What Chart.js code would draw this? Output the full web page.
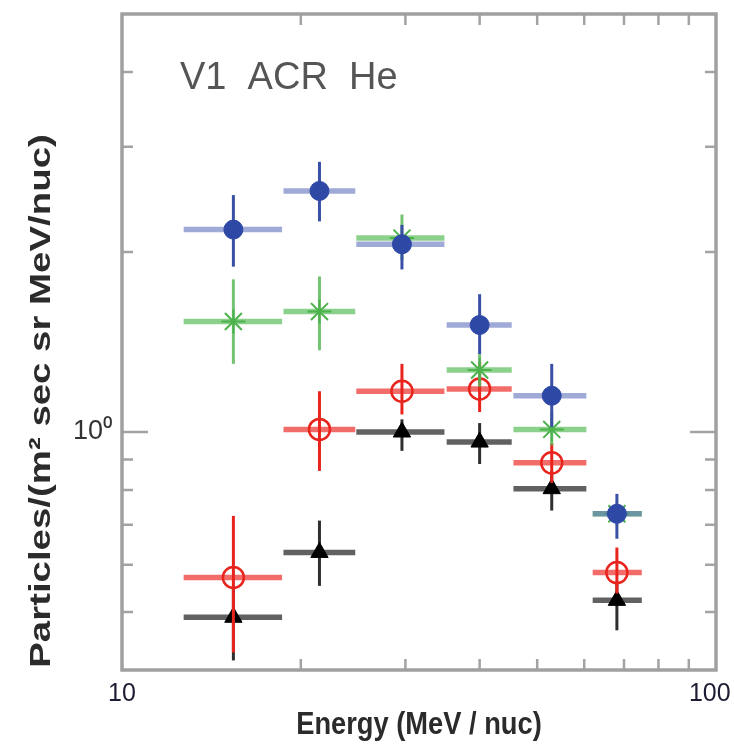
<!DOCTYPE html>
<html>
<head>
<meta charset="utf-8">
<title>V1 ACR He spectrum</title>
<style>
  html, body { margin: 0; padding: 0; background: #ffffff; }
  #wrap { width: 734px; height: 745px; position: relative; }
</style>
<script src="https://cdn.jsdelivr.net/npm/chart.js@4.4.1/dist/chart.umd.min.js"></script>
</head>
<body>
<div id="wrap"><canvas id="spectrum" width="734" height="745"></canvas></div>
<script>
// Energy bins (MeV/nuc): bin centre and bin edges
const energy  = [15.4, 21.5, 29.6, 40.0, 52.9, 68.1];
const binLow  = [12.7, 18.7, 24.8, 35.2, 45.6, 62.0];
const binHigh = [18.6, 24.7, 34.9, 45.3, 60.5, 75.0];

// Blue period (filled circles)
const blueFlux = [2.18, 2.53, 2.06, 1.51, 1.15, 0.730];
const blueHi   = [2.49, 2.83, 2.22, 1.70, 1.30, 0.788];
const blueLo   = [1.89, 2.25, 1.87, 1.35, 1.02, 0.663];

// Green period (asterisks)
const greenFlux = [1.53, 1.59, 2.11, 1.27, 1.01, 0.73];
const greenHi   = [1.80, 1.82, 2.31, 1.35, 1.08, 0.76];
const greenLo   = [1.30, 1.37, 1.94, 1.19, 0.95, 0.70];

// Red period (open circles)
const redFlux = [0.571, 1.01, 1.17, 1.18, 0.888, 0.582];
const redHi   = [0.724, 1.17, 1.30, 1.31, 0.959, 0.641];
const redLo   = [0.428, 0.861, 1.07, 1.08, 0.822, 0.537];

// Black period (filled triangles)
const blackFlux = [0.490, 0.629, 1.00, 0.962, 0.804, 0.523];
const blackHi   = [0.553, 0.711, 1.05, 1.035, 0.861, 0.560];
const blackLo   = [0.415, 0.553, 0.930, 0.884, 0.739, 0.466];

// Axis ranges, tick marks and labelled ticks
const xRange = [10, 100];
const yRange = [0.4, 5];
const xMinorTicks = [20, 30, 40, 50, 60, 70, 80, 90];
const yMinorTicks = [0.5, 0.6, 0.7, 0.8, 0.9, 2, 3, 4];
const yMajorTicks = [1];
// the trailing en space keeps the last label inside the canvas
const xTickLabels = { 10: '10', 100: '100\u2002' };
const yTickLabels = { 1: '10\u2070' };

const series = [
  { name: 'blue',  flux: blueFlux,  hi: blueHi,  lo: blueLo,
    hColor: 'rgba(80,100,180,0.55)', vColor: '#3a4fa6',
    style: { pointStyle: 'circle', radius: 9.5, backgroundColor: '#2e48a6', borderColor: '#2e48a6', borderWidth: 1 } },
  { name: 'green', flux: greenFlux, hi: greenHi, lo: greenLo,
    hColor: 'rgba(90,190,90,0.7)', vColor: 'rgba(90,185,90,0.85)',
    style: { pointStyle: 'star', radius: 12, backgroundColor: '#4cb24c', borderColor: '#4cb24c', borderWidth: 2 } },
  { name: 'red',   flux: redFlux,   hi: redHi,   lo: redLo,
    hColor: 'rgba(238,60,55,0.75)', vColor: '#e8241d',
    style: { pointStyle: 'circle', radius: 10.5, backgroundColor: 'rgba(255,255,255,0)', borderColor: '#e8241d', borderWidth: 2.5 } },
  { name: 'black', flux: blackFlux, hi: blackHi, lo: blackLo,
    hColor: 'rgba(30,30,30,0.7)', vColor: 'rgba(10,10,10,0.85)',
    style: { pointStyle: 'triangle', radius: 10, backgroundColor: '#000000', borderColor: '#000000', borderWidth: 1 } }
];

// Error bars are drawn just before each dataset's markers
const errorBarPlugin = {
  id: 'errorBars',
  beforeDatasetDraw(chart, args) {
    const s = series[args.index];
    if (!s) return;
    const xs = chart.scales.x, ys = chart.scales.y, ctx = chart.ctx;
    ctx.save();
    ctx.lineCap = 'butt';
    for (let i = 0; i < energy.length; i++) {
      const yc = ys.getPixelForValue(s.flux[i]);
      ctx.strokeStyle = s.hColor;
      ctx.lineWidth = 5.5;
      ctx.beginPath();
      ctx.moveTo(xs.getPixelForValue(binLow[i]), yc);
      ctx.lineTo(xs.getPixelForValue(binHigh[i]), yc);
      ctx.stroke();
      const xc = xs.getPixelForValue(energy[i]);
      ctx.strokeStyle = s.vColor;
      ctx.lineWidth = 3;
      ctx.beginPath();
      ctx.moveTo(xc, ys.getPixelForValue(s.hi[i]));
      ctx.lineTo(xc, ys.getPixelForValue(s.lo[i]));
      ctx.stroke();
    }
    ctx.restore();
  }
};

// Box frame with inward tick marks on all four sides
const framePlugin = {
  id: 'frame',
  afterDatasetsDraw(chart) {
    const { ctx, chartArea: a } = chart;
    const xs = chart.scales.x, ys = chart.scales.y;
    ctx.save();
    ctx.strokeStyle = '#a3a3a3';
    ctx.lineWidth = 2.5;
    xMinorTicks.forEach(v => {
      const px = xs.getPixelForValue(v);
      ctx.beginPath();
      ctx.moveTo(px, a.bottom); ctx.lineTo(px, a.bottom - 11);
      ctx.moveTo(px, a.top);    ctx.lineTo(px, a.top + 11);
      ctx.stroke();
    });
    const yTick = (v, len) => {
      const py = ys.getPixelForValue(v);
      ctx.beginPath();
      ctx.moveTo(a.left, py);  ctx.lineTo(a.left + len, py);
      ctx.moveTo(a.right, py); ctx.lineTo(a.right - len, py);
      ctx.stroke();
    };
    yMinorTicks.forEach(v => yTick(v, 11));
    yMajorTicks.forEach(v => yTick(v, 26));
    ctx.lineWidth = 3.5;
    ctx.strokeStyle = '#a0a0a0';
    ctx.strokeRect(a.left, a.top, a.right - a.left, a.bottom - a.top);
    ctx.restore();
  }
};

// Panel label and axis titles
const textPlugin = {
  id: 'texts',
  afterDraw(chart) {
    const { ctx, chartArea: a } = chart;
    ctx.save();
    ctx.fillStyle = '#555555';
    ctx.font = '38px "Liberation Sans", Arial, sans-serif';
    ctx.textAlign = 'left';
    ctx.textBaseline = 'alphabetic';
    ctx.fillText('V1  ACR  He', 180, 89);
    ctx.restore();

    ctx.save();
    ctx.fillStyle = '#2b2b2b';
    ctx.font = 'bold 31px "Liberation Sans", Arial, sans-serif';
    ctx.textAlign = 'center';
    ctx.textBaseline = 'alphabetic';
    ctx.translate((a.left + a.right) / 2, 734);
    ctx.scale(0.88, 1);
    ctx.fillText('Energy (MeV / nuc)', 0, 0);
    ctx.restore();

    ctx.save();
    ctx.fillStyle = '#2b2b2b';
    ctx.font = 'bold 30px "Liberation Sans", Arial, sans-serif';
    ctx.textAlign = 'center';
    ctx.textBaseline = 'alphabetic';
    ctx.translate(50, 401);
    ctx.scale(1, 1.28);
    ctx.rotate(-Math.PI / 2);
    ctx.fillText('Particles/(m\u00b2 sec sr MeV/nuc)', 0, 0);
    ctx.restore();
  }
};

const datasets = series.map(s => Object.assign({
  label: s.name,
  data: energy.map((e, i) => ({ x: e, y: s.flux[i] })),
  showLine: false,
  clip: false
}, s.style));

new Chart(document.getElementById('spectrum'), {
  type: 'scatter',
  data: { datasets },
  plugins: [errorBarPlugin, framePlugin, textPlugin],
  options: {
    responsive: false,
    animation: false,
    devicePixelRatio: 1,
    layout: { padding: { top: 12, right: 18, left: 0, bottom: 0 } },
    plugins: { legend: { display: false }, tooltip: { enabled: false } },
    scales: {
      x: {
        type: 'logarithmic',
        min: xRange[0], max: xRange[1],
        grid: { display: false, drawTicks: false },
        border: { display: false },
        afterFit(scale) {
          scale.height = 75;
          scale.paddingLeft = 0; scale.paddingRight = 0;
        },
        ticks: {
          autoSkip: false, maxRotation: 0, padding: 9,
          color: '#1c1c34',
          font: { family: '"Liberation Sans", Arial, sans-serif', size: 25 },
          callback: v => (xTickLabels[v] !== undefined ? xTickLabels[v] : null)
        }
      },
      y: {
        type: 'logarithmic',
        min: yRange[0], max: yRange[1],
        grid: { display: false, drawTicks: false },
        border: { display: false },
        afterFit(scale) {
          scale.width = 122;
          scale.paddingTop = 0; scale.paddingBottom = 0;
        },
        ticks: {
          autoSkip: false, padding: 10,
          color: '#333333',
          font: { family: '"Liberation Sans", Arial, sans-serif', size: 27 },
          callback: v => (Math.abs(v - 1) < 1e-9 ? yTickLabels[1] : null)
        }
      }
    }
  }
});
</script>
</body>
</html>
